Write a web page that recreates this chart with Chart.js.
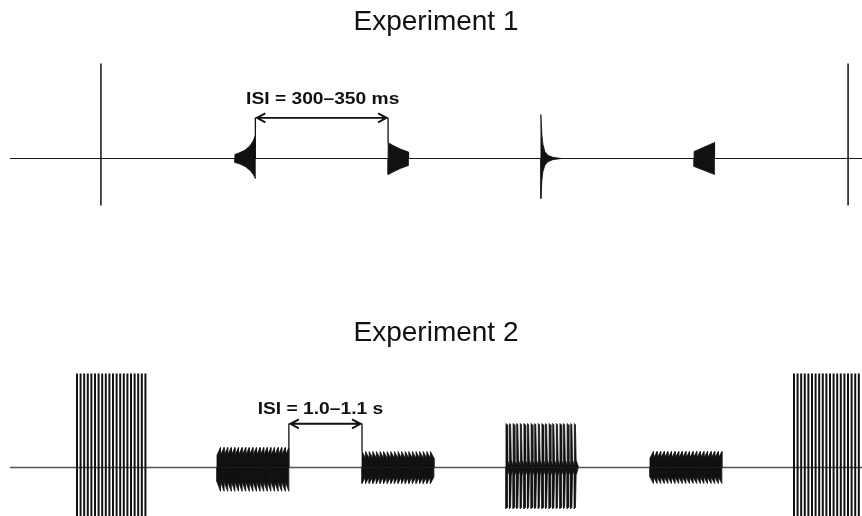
<!DOCTYPE html>
<html>
<head>
<meta charset="utf-8">
<script src="https://cdn.jsdelivr.net/npm/chart.js@4/dist/chart.umd.min.js"></script>
<style>
  html, body { margin: 0; padding: 0; background: #fff; }
  #wrap { position: relative; width: 862px; height: 516px; overflow: hidden; }
  #c1 { position: absolute; left: 0; top: 0; }
  #c2 { position: absolute; left: 0; top: 311px; }
</style>
</head>
<body>
<div id="wrap">
  <canvas id="c1" width="862" height="258"></canvas>
  <canvas id="c2" width="862" height="205"></canvas>
</div>
<script>
// ---- Titles and labels ----
const exp1Title = 'Experiment 1';
const exp2Title = 'Experiment 2';
const isiLabel1 = 'ISI = 300–350 ms';
const isiLabel2 = 'ISI = 1.0–1.1 s';

// Sound types, in the order they are presented (same in both experiments)
const soundOrder = ['click', 'rampedExp', 'damped', 'dampedFast', 'rampedLin', 'click'];

// ---- Experiment 1: single sounds (onsets in ms) ----
const exp1Onsets = [222, 549, 923, 1296, 1670, 2046];
const exp1SoundMs = 50;

// ---- Experiment 2: trains of sounds (train onsets in ms) ----
const exp2Onsets = [967, 2988, 5082, 7160, 9239, 11318];
const exp2SoundsPerTrain = 20;
const exp2PeriodMs = 52;
const exp2SoundMs = 50;

// ---- Envelopes of single sounds: time as a fraction of the sound, amplitude relative to a click ----
const clickUp = 1.0;
const clickLo = 0.495;
const rampExpT  = [0, 0.25, 0.5, 0.75, 0.9, 1];
const rampExpUp = [0.042, 0.063, 0.089, 0.137, 0.189, 0.242];
const rampExpLo = [0.042, 0.058, 0.084, 0.126, 0.168, 0.211];
const dampT  = [0, 0.2, 0.4, 0.6, 0.8, 1];
const dampUp = [0.168, 0.142, 0.121, 0.100, 0.084, 0.068];
const dampLo = [0.168, 0.147, 0.126, 0.105, 0.089, 0.074];
const fastT  = [0, 0.05, 0.1, 0.2, 0.34, 0.59, 1];
const fastUp = [0.463, 0.25, 0.15, 0.07, 0.035, 0.012, 0];
const fastLo = [0.421, 0.23, 0.14, 0.07, 0.035, 0.012, 0];
const rampLinT  = [0, 1];
const rampLinUp = [0.074, 0.168];
const rampLinLo = [0.084, 0.168];

// ---- Envelopes of the sounds inside a train ----
const trainClickUp = 0.99;
const trainClickLo = 0.6;
const trainToneT = [0, 1];
const trainRampExpUp = [0.13, 0.21];
const trainRampExpLo = [0.15, 0.25];
const trainDampUp = [0.168, 0.10];
const trainDampLo = [0.168, 0.10];
const trainRampLinUp = [0.10, 0.168];
const trainRampLinLo = [0.10, 0.168];
const trainFastT  = [0, 0.3, 0.5, 1];
const trainFastUp = [0.463, 0.45, 0.08, 0.02];
const trainFastLo = [0.432, 0.42, 0.08, 0.02];

// ---- helpers building point lists ----
function envelope(onset, dur, t, amp, sign) {
  const pts = [{ x: onset, y: 0 }];
  t.forEach((f, i) => pts.push({ x: onset + f * dur, y: sign * amp[i] }));
  pts.push({ x: onset + dur, y: 0 });
  return pts;
}
function train(onset, t, amp, sign) {
  let pts = [];
  for (let k = 0; k < exp2SoundsPerTrain; k++) {
    pts = pts.concat(envelope(onset + k * exp2PeriodMs, exp2SoundMs, t, amp, sign));
  }
  return pts;
}
function clickSegments(times, up, lo) {
  const pts = [];
  times.forEach(t => { pts.push({ x: t, y: up }, { x: t, y: -lo }, { x: t, y: null }); });
  return pts;
}

const ink = '#111';
function shapeSet(data, width) {
  return { data, fill: 'origin', backgroundColor: ink, borderColor: ink, borderWidth: width,
           pointRadius: 0, tension: 0 };
}
function baselineSet(x0, x1, color, width) {
  return { data: [{ x: x0, y: 0 }, { x: x1, y: 0 }], borderColor: color, borderWidth: width,
           pointRadius: 0, fill: false };
}

// ---- Experiment 1 datasets ----
const exp1Env = {
  rampedExp: [rampExpT, rampExpUp, rampExpLo],
  damped: [dampT, dampUp, dampLo],
  dampedFast: [fastT, fastUp, fastLo],
  rampedLin: [rampLinT, rampLinUp, rampLinLo]
};
const exp1Sets = [];
const exp1Clicks = [];
soundOrder.forEach((type, i) => {
  const on = exp1Onsets[i];
  if (type === 'click') { exp1Clicks.push(on); return; }
  const [t, up, lo] = exp1Env[type];
  exp1Sets.push(shapeSet(envelope(on, exp1SoundMs, t, up, 1), 0.8));
  exp1Sets.push(shapeSet(envelope(on, exp1SoundMs, t, lo, -1), 0.8));
});
exp1Sets.push({ data: clickSegments(exp1Clicks, clickUp, clickLo), borderColor: ink, borderWidth: 1.5,
                pointRadius: 0, fill: false, spanGaps: false });
exp1Sets.push(baselineSet(0, 2080, '#1a1a1a', 1.2));

// ---- Experiment 2 datasets ----
const exp2Env = {
  rampedExp: [trainToneT, trainRampExpUp, trainRampExpLo],
  damped: [trainToneT, trainDampUp, trainDampLo],
  dampedFast: [trainFastT, trainFastUp, trainFastLo],
  rampedLin: [trainToneT, trainRampLinUp, trainRampLinLo]
};
const exp2Sets = [];
const exp2ClickTimes = [];
soundOrder.forEach((type, i) => {
  const on = exp2Onsets[i];
  if (type === 'click') {
    for (let k = 0; k < exp2SoundsPerTrain; k++) exp2ClickTimes.push(on + k * exp2PeriodMs);
    return;
  }
  const [t, up, lo] = exp2Env[type];
  exp2Sets.push(shapeSet(train(on, t, up, 1), 0.8));
  exp2Sets.push(shapeSet(train(on, t, lo, -1), 0.8));
});
exp2Sets.push({ data: clickSegments(exp2ClickTimes, trainClickUp, trainClickLo), borderColor: ink,
                borderWidth: 2.0, pointRadius: 0, fill: false, spanGaps: false });
exp2Sets.push(baselineSet(0, 12300, '#555', 1.3));

// ---- ISI arrow with its label ----
const isiArrow = {
  id: 'isiArrow',
  afterDatasetsDraw(chart, args, o) {
    const { ctx, scales: { x, y } } = chart;
    const x0 = x.getPixelForValue(o.from), x1 = x.getPixelForValue(o.to);
    const ya = y.getPixelForValue(o.level);
    ctx.save();
    ctx.strokeStyle = ink;
    ctx.lineWidth = 1.3;
    ctx.beginPath();
    ctx.moveTo(x0, ya); ctx.lineTo(x0, y.getPixelForValue(o.fromTop));
    ctx.moveTo(x1, ya); ctx.lineTo(x1, y.getPixelForValue(o.toTop));
    ctx.stroke();
    ctx.lineWidth = 1.9;
    ctx.beginPath();
    ctx.moveTo(x0 + 1, ya); ctx.lineTo(x1 - 1, ya);
    ctx.moveTo(x0 + 10, ya - 4.5); ctx.lineTo(x0 + 1.5, ya); ctx.lineTo(x0 + 10, ya + 4.5);
    ctx.moveTo(x1 - 10, ya - 4.5); ctx.lineTo(x1 - 1.5, ya); ctx.lineTo(x1 - 10, ya + 4.5);
    ctx.stroke();
    ctx.fillStyle = ink;
    ctx.font = 'bold 16px "Liberation Sans", Arial, sans-serif';
    ctx.textAlign = 'center';
    ctx.textBaseline = 'alphabetic';
    ctx.translate((x0 + x1) / 2 + o.shift, y.getPixelForValue(o.labelLevel));
    ctx.scale(1.2, 1);
    ctx.fillText(o.text, 0, 0);
    ctx.restore();
  }
};

function makeChart(id, sets, title, xMax, yMin, yMax, arrow) {
  return new Chart(document.getElementById(id), {
    type: 'line',
    data: { datasets: sets },
    plugins: [isiArrow],
    options: {
      responsive: false,
      animation: false,
      events: [],
      layout: { padding: { left: 10, right: 0, top: 0, bottom: 0 } },
      scales: {
        x: { type: 'linear', min: 0, max: xMax, display: false },
        y: { type: 'linear', min: yMin, max: yMax, display: false }
      },
      plugins: {
        legend: { display: false },
        tooltip: { enabled: false },
        title: {
          display: true, text: title, color: ink,
          font: { size: 28, weight: 'normal', family: '"Liberation Sans", Arial, sans-serif' },
          padding: { top: 5, bottom: 5 }
        },
        isiArrow: arrow
      }
    }
  });
}

makeChart('c1', exp1Sets, exp1Title, 2080, -1.0474, 1.2095, {
  from: exp1Onsets[1] + exp1SoundMs, to: exp1Onsets[2],
  level: 0.428, fromTop: rampExpUp[rampExpUp.length - 1], toTop: dampUp[0],
  labelLevel: 0.576, text: isiLabel1, shift: 1
});

makeChart('c2', exp2Sets, exp2Title, 12300, -0.5105, 1.1884, {
  from: exp2Onsets[1] + (exp2SoundsPerTrain - 1) * exp2PeriodMs + exp2SoundMs, to: exp2Onsets[2],
  level: 0.46, fromTop: trainRampExpUp[1], toTop: trainDampUp[0],
  labelLevel: 0.563, text: isiLabel2, shift: -5
});
</script>
</body>
</html>
